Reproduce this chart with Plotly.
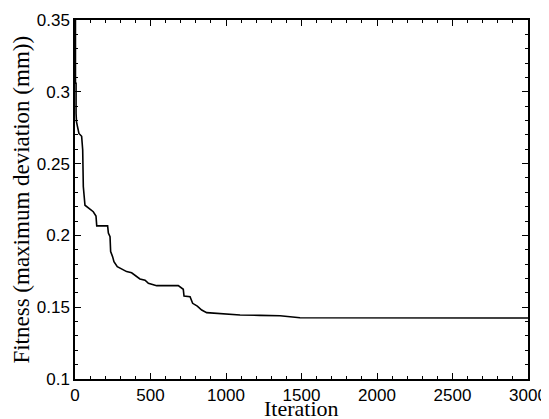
import plotly.graph_objects as go

iterations = [0, 3, 3, 7, 7, 10, 26, 44, 51, 55, 66, 121, 139, 144, 216, 221, 232, 236, 249, 258, 280,
              342, 375, 408, 430, 464, 486, 541, 684, 717, 722, 762, 779, 810, 839, 872, 1004, 1093,
              1225, 1358, 1490, 1887, 2500, 3000]
fitness = [0.36, 0.36, 0.306, 0.306, 0.285, 0.279, 0.271, 0.269, 0.2595, 0.234, 0.221, 0.2165, 0.2135,
           0.2066, 0.2066, 0.2017, 0.1991, 0.1887, 0.1852, 0.1817, 0.1782, 0.1748, 0.174, 0.1713,
           0.1697, 0.1688, 0.1666, 0.165, 0.165, 0.1625, 0.1578, 0.1573, 0.1527, 0.1508, 0.148,
           0.1462, 0.1453, 0.1446, 0.1443, 0.144, 0.1427, 0.1427, 0.1426, 0.1425]

x_tickvals = [0, 500, 1000, 1500, 2000, 2500, 3000]
x_ticktext = ["0", "500", "1000", "1500", "2000", "2500", "3000"]
y_tickvals = [0.1, 0.15, 0.2, 0.25, 0.3, 0.35]
y_ticktext = ["0.1", "0.15", "0.2", "0.25", "0.3", "0.35"]

x_title = "Iteration"
y_title = "Fitness (maximum deviation (mm))"

fig = go.Figure()
fig.add_trace(go.Scatter(x=iterations, y=fitness, mode="lines",
                         line=dict(color="black", width=1.6), showlegend=False))

axis_common = dict(showline=True, linecolor="black", linewidth=1.5, mirror="ticks",
                   ticks="inside", ticklen=6, tickwidth=1.2, tickcolor="black",
                   showgrid=False, zeroline=False, automargin=False,
                   tickfont=dict(family="Liberation Sans, Arial", size=17, color="black"))

fig.update_xaxes(range=[0, 3000], tickvals=x_tickvals, ticktext=x_ticktext,
                 minor=dict(ticks="inside", ticklen=3, tickcolor="black", dtick=100, tick0=0),
                 **axis_common)
fig.update_yaxes(range=[0.1, 0.35], tickvals=y_tickvals, ticktext=y_ticktext,
                 minor=dict(ticks="inside", ticklen=3, tickcolor="black", dtick=0.01, tick0=0.1),
                 **axis_common)

fig.add_annotation(text=y_title, xref="paper", yref="paper", x=-0.119, y=0.5,
                   xanchor="center", yanchor="middle", textangle=-90, showarrow=False,
                   font=dict(family="Liberation Serif, Times New Roman", size=23, color="black"))
fig.add_annotation(text=x_title, xref="paper", yref="paper", x=0.5, y=-0.042,
                   xanchor="center", yanchor="top", showarrow=False,
                   font=dict(family="Liberation Serif, Times New Roman", size=22, color="black"))

# page body has an 8px default margin, so the figure is offset by 8px
fig.update_layout(width=541, height=411, margin=dict(l=67, r=21, t=12, b=40),
                  plot_bgcolor="white", paper_bgcolor="white")

fig.write_html("out.html")
